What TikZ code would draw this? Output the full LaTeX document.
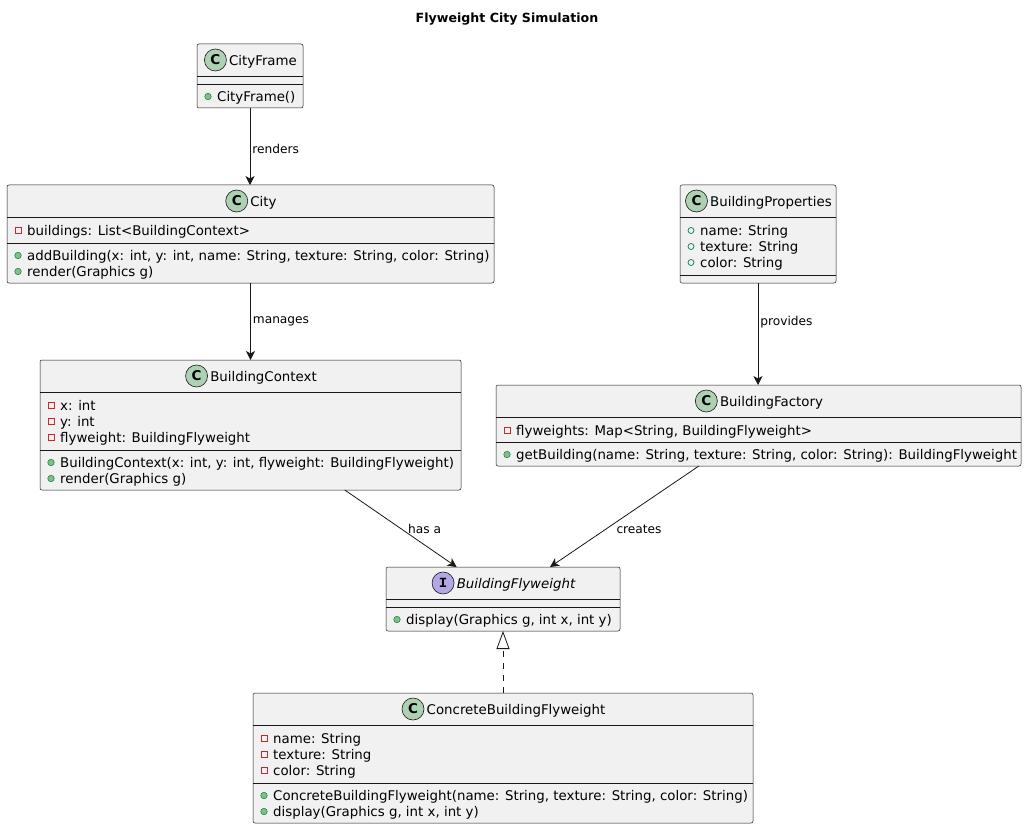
\documentclass[tikz,border=0pt]{standalone}
\usepackage{fontspec}
\setmainfont{DejaVu Sans}
\setmonofont{Liberation Mono}
\usetikzlibrary{arrows.meta}

\definecolor{boxbg}{HTML}{F1F1F1}
\definecolor{linec}{HTML}{181818}
\definecolor{classicon}{HTML}{ADD1B2}
\definecolor{ifaceicon}{HTML}{B4A7E5}
\definecolor{privred}{HTML}{C82930}
\definecolor{pubfill}{HTML}{84BE84}
\definecolor{publine}{HTML}{038048}

\tikzset{
  cls/.style={draw=linec, fill=boxbg, line width=0.5pt, rectangle, rounded corners=2pt,
    anchor=north west, inner sep=0pt, outer sep=0pt},
  sepline/.style={draw=linec, line width=0.5pt},
  memtext/.style={anchor=west, inner sep=0pt, font=\fontsize{13.35}{16}\selectfont,
    text height=9.7pt, text depth=3pt},
  headtext/.style={anchor=center, inner sep=0pt, font=\fontsize{13.35}{16}\selectfont,
    text height=9.7pt, text depth=3pt},
  visprivate/.style={rectangle, draw=privred, line width=0.7pt, minimum size=6pt, inner sep=0pt},
  vismethod/.style={circle, fill=pubfill, draw=publine, line width=0.5pt, minimum size=6.5pt, inner sep=0pt},
  visfield/.style={circle, draw=publine, line width=0.7pt, minimum size=6pt, inner sep=0pt},
  classmark/.style={circle, fill=classicon, draw=linec, line width=0.6pt, minimum size=22pt,
    inner sep=0pt, font=\fontsize{13.5}{14}\selectfont\bfseries},
  ifacemark/.style={circle, fill=ifaceicon, draw=linec, line width=0.6pt, minimum size=22pt,
    inner sep=0pt, font=\fontsize{14}{14}\selectfont\ttfamily\bfseries},
  assoc/.style={draw=linec, line width=0.8pt, -{Stealth[length=9pt, width=9pt, inset=2.5pt]}},
  realize/.style={draw=linec, line width=0.8pt, dash pattern=on 6pt off 6pt,
    -{Triangle[open, fill=white, length=18pt, width=13pt]}},
  elabel/.style={anchor=west, inner sep=0pt, font=\fontsize{12.2}{14}\selectfont},
}

% member line: name, visibility style, box left x, centre y, text
\newcommand{\umlmem}[5]{%
  \node[#2] (#1-v) at ({#3+11},{#4+0.5}) {};
  \node[memtext] (#1) at ({#3+20},{#4+2}) {#5};}
% header: name, icon style, icon letter, box centre x, centre y, text
\newcommand{\umlhead}[6]{%
  \node[headtext] (#1) at ({#4+13},{#5+2.5}) {#6};
  \node[#2] (#1-icon) at ([xshift=-13.5pt,yshift=2.5pt]#1.west) {#3};}

\begin{document}
\begin{tikzpicture}[x=1pt, y=-1pt]
\useasboundingbox[fill=white] (0,0) rectangle (1027,829);

\node[font=\fontsize{12.6}{14}\selectfont\bfseries, inner sep=0pt] (title) at (507,19) {Flyweight City Simulation};

% CityFrame
\node[cls, minimum width=106pt, minimum height=64pt] (cityframe) at (197,44) {};
\draw[sepline] (197,76) -- (303,76);
\draw[sepline] (197,84) -- (303,84);
\umlhead{cityframe-h}{classmark}{C}{250}{60}{CityFrame}
\umlmem{cityframe-m1}{vismethod}{197}{96}{CityFrame()}

% City
\node[cls, minimum width=487pt, minimum height=98pt] (city) at (7,185) {};
\draw[sepline] (7,217) -- (494,217);
\draw[sepline] (7,243) -- (494,243);
\umlhead{city-h}{classmark}{C}{250.5}{201}{City}
\umlmem{city-a1}{visprivate}{7}{230}{buildings: List<BuildingContext>}
\umlmem{city-m1}{vismethod}{7}{255}{addBuilding(x: int, y: int, name: String, texture: String, color: String)}
\umlmem{city-m2}{vismethod}{7}{271}{render(Graphics g)}

% BuildingContext
\node[cls, minimum width=421pt, minimum height=130pt] (bctx) at (40,360) {};
\draw[sepline] (40,392) -- (461,392);
\draw[sepline] (40,450) -- (461,450);
\umlhead{bctx-h}{classmark}{C}{250.5}{376}{BuildingContext}
\umlmem{bctx-a1}{visprivate}{40}{405}{x: int}
\umlmem{bctx-a2}{visprivate}{40}{421}{y: int}
\umlmem{bctx-a3}{visprivate}{40}{437}{flyweight: BuildingFlyweight}
\umlmem{bctx-m1}{vismethod}{40}{462}{BuildingContext(x: int, y: int, flyweight: BuildingFlyweight)}
\umlmem{bctx-m2}{vismethod}{40}{478}{render(Graphics g)}

% BuildingProperties
\node[cls, minimum width=156pt, minimum height=98pt] (bprops) at (680,185) {};
\draw[sepline] (680,217) -- (836,217);
\draw[sepline] (680,275) -- (836,275);
\umlhead{bprops-h}{classmark}{C}{758}{201}{BuildingProperties}
\umlmem{bprops-a1}{visfield}{680}{230}{name: String}
\umlmem{bprops-a2}{visfield}{680}{246}{texture: String}
\umlmem{bprops-a3}{visfield}{680}{262}{color: String}

% BuildingFactory
\node[cls, minimum width=525pt, minimum height=81pt] (bfac) at (496,385) {};
\draw[sepline] (496,417) -- (1021,417);
\draw[sepline] (496,442) -- (1021,442);
\umlhead{bfac-h}{classmark}{C}{758.5}{401}{BuildingFactory}
\umlmem{bfac-a1}{visprivate}{496}{430}{flyweights: Map<String, BuildingFlyweight>}
\umlmem{bfac-m1}{vismethod}{496}{454}{getBuilding(name: String, texture: String, color: String): BuildingFlyweight}

% BuildingFlyweight (interface)
\node[cls, minimum width=234pt, minimum height=64pt] (bfly) at (386,567) {};
\draw[sepline] (386,599) -- (620,599);
\draw[sepline] (386,607) -- (620,607);
\umlhead{bfly-h}{ifacemark}{I}{503}{583}{\itshape BuildingFlyweight}
\umlmem{bfly-m1}{vismethod}{386}{619}{display(Graphics g, int x, int y)}

% ConcreteBuildingFlyweight
\node[cls, minimum width=500pt, minimum height=130pt] (cbf) at (253,693) {};
\draw[sepline] (253,725) -- (753,725);
\draw[sepline] (253,783) -- (753,783);
\umlhead{cbf-h}{classmark}{C}{503}{709}{ConcreteBuildingFlyweight}
\umlmem{cbf-a1}{visprivate}{253}{738}{name: String}
\umlmem{cbf-a2}{visprivate}{253}{754}{texture: String}
\umlmem{cbf-a3}{visprivate}{253}{770}{color: String}
\umlmem{cbf-m1}{vismethod}{253}{795}{ConcreteBuildingFlyweight(name: String, texture: String, color: String)}
\umlmem{cbf-m2}{vismethod}{253}{811}{display(Graphics g, int x, int y)}

% relations
\draw[assoc] (cityframe.south) -- node[elabel, pos=0.53, xshift=2pt] {renders} (cityframe.south |- city.north);
\draw[assoc] (city.south) -- node[elabel, pos=0.5, xshift=2pt] {manages} (city.south |- bctx.north);
\draw[assoc] (bprops.south) -- node[elabel, pos=0.38, xshift=2pt] {provides} (bprops.south |- bfac.north);
\draw[assoc] (bctx) -- node[elabel, pos=0.5, xshift=7pt] {has a} (bfly);
\draw[assoc] (bfac) -- node[elabel, pos=0.63, xshift=11pt] {creates} (bfly);
\draw[realize] (cbf) -- (bfly);
\end{tikzpicture}
\end{document}
